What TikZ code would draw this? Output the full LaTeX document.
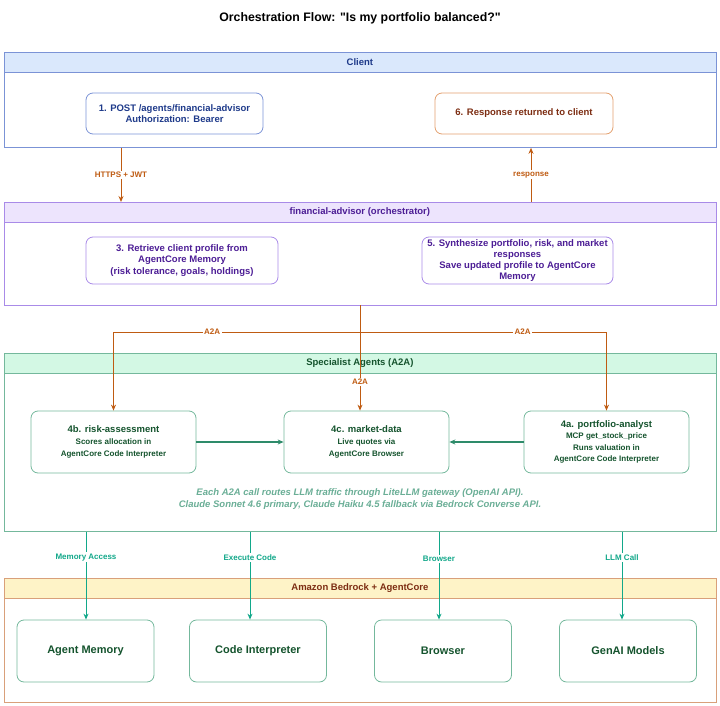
\documentclass[tikz,border=0pt]{standalone}
\usepackage{fontspec}
\setmainfont{Liberation Sans}[Ligatures=TeXOff]
\usetikzlibrary{arrows.meta,positioning}
\definecolor{clibg}{HTML}{DAE8FC}
\definecolor{clibd}{HTML}{7B93D6}
\definecolor{clitx}{HTML}{1E3A8A}
\definecolor{rspbd}{HTML}{E3A06E}
\definecolor{rsptx}{HTML}{7C2D12}
\definecolor{orng}{HTML}{BF5B12}
\definecolor{orchbg}{HTML}{EDE4FD}
\definecolor{orchbd}{HTML}{A98BE8}
\definecolor{orchtx}{HTML}{4C1D95}
\definecolor{specbg}{HTML}{D3F8E4}
\definecolor{specbd}{HTML}{74B89C}
\definecolor{spectx}{HTML}{14532D}
\definecolor{grn}{HTML}{2E8B6A}
\definecolor{notec}{HTML}{6AAE96}
\definecolor{teal}{HTML}{12A88A}
\definecolor{bedbg}{HTML}{FEF3C7}
\definecolor{bedbd}{HTML}{D9A07A}
\tikzset{
  ctr/.style={draw,line width=0.8pt,anchor=north west,inner sep=0pt,minimum width=712},
  hdr/.style={ctr,minimum height=20,font=\bfseries\fontsize{9.5}{11}\selectfont},
  box/.style={draw,line width=0.8pt,rounded corners=7pt,align=center,inner sep=2pt,font=\bfseries\fontsize{9.5}{11.3}\selectfont},
  agt/.style={box,draw=specbd,text=spectx,minimum width=165,minimum height=62,font=\bfseries\fontsize{8}{12}\selectfont},
  svc/.style={box,draw=specbd,text=spectx,minimum width=137,minimum height=62,font=\bfseries\fontsize{11}{13}\selectfont},
  oar/.style={-{Stealth[length=6pt,width=5pt]},line width=1pt,orng},
  gar/.style={-{Stealth[length=6pt,width=5pt]},line width=1.1pt,grn},
  tar/.style={-{Stealth[length=6pt,width=5pt]},line width=1pt,teal},
  lbl/.style={fill=white,inner sep=1.5pt,font=\bfseries\fontsize{8}{9}\selectfont}
}
\begin{document}
\begin{tikzpicture}[x=1pt,y=-1pt]
\useasboundingbox (0,0) rectangle (720,706);
\node[font=\bfseries\fontsize{12.3}{14}\selectfont] (title) at (360,18) {Orchestration Flow: "Is my portfolio balanced?"};
% containers
\node[ctr,draw=clibd,minimum height=95] (client) at (3.5,52) {};
\node[hdr,draw=clibd,fill=clibg,text=clitx] (clienthd) at (3.5,52) {Client};
\node[ctr,draw=orchbd,minimum height=102.5] (orch) at (3.5,202) {};
\node[hdr,draw=orchbd,fill=orchbg,text=orchtx] (orchhd) at (3.5,202) {financial-advisor (orchestrator)};
\node[ctr,draw=specbd,minimum height=178] (spec) at (3.5,353) {};
\node[hdr,draw=specbd,fill=specbg,text=spectx] (spechd) at (3.5,353) {Specialist Agents (A2A)};
\node[ctr,draw=bedbd,minimum height=124] (bed) at (3.5,578) {};
\node[hdr,draw=bedbd,fill=bedbg,text=rsptx] (bedhd) at (3.5,578) {Amazon Bedrock + AgentCore};
% client and orchestrator steps
\node[box,draw=clibd,text=clitx,minimum width=177,minimum height=41] (post) at (174.5,113.5) {1. POST /agents/financial-advisor\\Authorization: Bearer};
\node[box,draw=rspbd,text=rsptx,minimum width=178,minimum height=41] (done) at (524,113.5) {6. Response returned to client};
\node[box,draw=orchbd,text=orchtx,minimum width=192,minimum height=47] (recall) at (182,260.5) {3. Retrieve client profile from\\AgentCore Memory\\(risk tolerance, goals, holdings)};
\node[box,draw=orchbd,text=orchtx,minimum width=191,minimum height=47] (synth) at (517.5,260.5) {5. Synthesize portfolio, risk, and market\\responses\\Save updated profile to AgentCore\\Memory};
% specialist agents
\node[agt] (risk) at (113.5,442) {{\fontsize{9.5}{11}\selectfont 4b. risk-assessment}\\Scores allocation in\\AgentCore Code Interpreter};
\node[agt] (mkt) at (366.5,442) {{\fontsize{9.5}{11}\selectfont 4c. market-data}\\Live quotes via\\AgentCore Browser};
\node[agt,font=\bfseries\fontsize{8}{11.3}\selectfont] (port) at (606.5,442) {{\fontsize{9.5}{11}\selectfont 4a. portfolio-analyst}\\MCP get\_stock\_price\\Runs valuation in\\AgentCore Code Interpreter};
\node[align=center,text=notec,font=\bfseries\itshape\fontsize{9.5}{12}\selectfont] (note) at (360,499) {Each A2A call routes LLM traffic through LiteLLM gateway (OpenAI API).\\Claude Sonnet 4.6 primary, Claude Haiku 4.5 fallback via Bedrock Converse API.};
% bedrock services
\foreach \nm/\cx/\txt in {mem/85.5/Agent Memory,code/258/Code Interpreter,web/443/Browser,llm/628/GenAI Models}
  \node[svc] (\nm) at (\cx,651) {\txt};
% connectors
\coordinate (jwt) at (121,0);
\coordinate (rsp) at (531,0);
\coordinate (fork) at (360,332);
\draw[oar] (client.south -| jwt) -- node[lbl,text=orng]{HTTPS + JWT} (orch.north -| jwt);
\draw[oar] (orch.north -| rsp) -- node[lbl,text=orng]{response} (client.south -| rsp);
\draw[oar] (orch.south -| fork) -- node[lbl,text=orng,pos=0.73]{A2A} (mkt.north -| fork);
\draw[oar] (fork) -| node[lbl,text=orng,pos=0.3]{A2A} (risk.north);
\draw[oar] (fork) -| node[lbl,text=orng,pos=0.33]{A2A} (port.north);
\draw[gar] (risk.east) -- (mkt.west);
\draw[gar] (port.west) -- (mkt.east);
\foreach \nm/\xx/\lab/\ps in {mem/86/Memory Access/0.29,code/250/Execute Code/0.29,web/439/Browser/0.31,llm/622/LLM Call/0.29}{
  \coordinate (s\nm) at (\xx,0);
  \draw[tar] (spec.south -| s\nm) -- node[lbl,text=teal,pos=\ps]{\lab} (\nm.north -| s\nm);
}
\end{tikzpicture}
\end{document}
